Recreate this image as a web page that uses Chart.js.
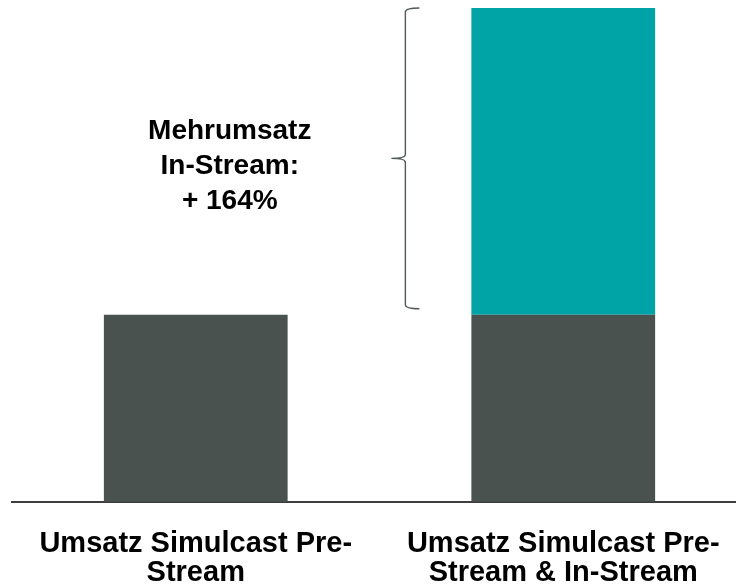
<!DOCTYPE html>
<html>
<head>
<meta charset="utf-8">
<script src="https://cdn.jsdelivr.net/npm/chart.js@4/dist/chart.umd.min.js"></script>
<style>
  html, body { margin: 0; padding: 0; background: #ffffff; overflow: hidden; width: 736px; height: 585px; }
  #wrap { position: absolute; left: 0; top: 0; width: 748px; height: 630px; }
</style>
</head>
<body>
<div id="wrap"><canvas id="c"></canvas></div>
<script>
// ---- data ----
const categories = [
  ['Umsatz Simulcast Pre-', 'Stream'],
  ['Umsatz Simulcast Pre-', 'Stream & In-Stream']
];
const baseRevenue = [100, 100];          // Umsatz Simulcast Pre-Stream (index = 100)
const inStreamExtra = [null, 164];       // Mehrumsatz In-Stream
const annotationLines = ['Mehrumsatz', 'In-Stream:', '+ 164%'];

const GRAY = '#4A5250';
const TEAL = '#00A3A6';
const FONT = '"Liberation Sans", Arial, Helvetica, sans-serif';

const bracePlugin = {
  id: 'brace',
  afterDatasetsDraw(chart) {
    const ctx = chart.ctx;
    const y = chart.scales.y;
    const meta = chart.getDatasetMeta(1);
    const bar = meta.data[1];
    if (!bar) return;
    const left = bar.x - bar.width / 2;
    const bx = left - 66;
    const top = y.getPixelForValue(baseRevenue[1] + inStreamExtra[1]);
    const bottom = y.getPixelForValue(baseRevenue[1]) - 6;
    const mid = (top + bottom) / 2;
    ctx.save();
    ctx.strokeStyle = '#50585a';
    ctx.lineWidth = 1.4;
    ctx.beginPath();
    ctx.moveTo(bx + 14, top);
    ctx.quadraticCurveTo(bx, top, bx, top + 4);
    ctx.lineTo(bx, mid - 4);
    ctx.quadraticCurveTo(bx, mid, bx - 14, mid);
    ctx.quadraticCurveTo(bx, mid, bx, mid + 4);
    ctx.lineTo(bx, bottom - 4);
    ctx.quadraticCurveTo(bx, bottom, bx + 14, bottom);
    ctx.stroke();

    // annotation text
    ctx.fillStyle = '#000000';
    ctx.font = 'bold 28px ' + FONT;
    ctx.textAlign = 'center';
    ctx.textBaseline = 'middle';
    const tx = chart.scales.x.getPixelForValue(0) + 34;
    const offs = [-27, 8, 43];
    annotationLines.forEach((t, i) => ctx.fillText(t, tx, mid + offs[i]));
    ctx.restore();
  }
};

new Chart(document.getElementById('c'), {
  type: 'bar',
  data: {
    labels: categories,
    datasets: [
      { label: 'Umsatz Pre-Stream', data: baseRevenue, backgroundColor: GRAY, borderWidth: 0 },
      { label: 'Mehrumsatz In-Stream', data: inStreamExtra, backgroundColor: TEAL, borderWidth: 0 }
    ]
  },
  options: {
    responsive: true,
    maintainAspectRatio: false,
    animation: false,
    layout: { padding: { left: 12, right: 1, top: 8, bottom: 15 } },
    datasets: { bar: { barPercentage: 0.5, categoryPercentage: 1.0 } },
    plugins: { legend: { display: false }, tooltip: { enabled: false } },
    scales: {
      x: {
        stacked: true,
        grid: { display: false, drawTicks: false },
        border: { display: true, color: '#3f3f3f', width: 2 },
        ticks: {
          color: '#000000',
          font: { family: FONT, size: 29, weight: 'bold', lineHeight: 1.02 },
          padding: 27,
          autoSkip: false,
          maxRotation: 0,
          minRotation: 0
        }
      },
      y: {
        stacked: true,
        display: false,
        min: 0,
        max: 264
      }
    }
  },
  plugins: [bracePlugin]
});
</script>
</body>
</html>
